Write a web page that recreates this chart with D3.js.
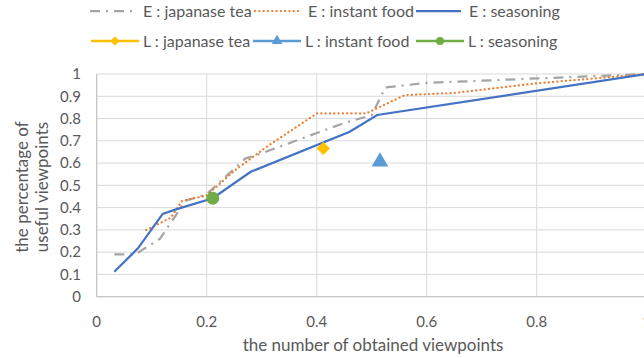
<!DOCTYPE html>
<html>
<head>
<meta charset="utf-8">
<script src="https://cdn.jsdelivr.net/npm/d3@7"></script>
<style>
  body { margin: 0; background: #fff; }
  text { font-family: Lato, "Open Sans", sans-serif; fill: #595959; }
</style>
</head>
<body>
<div id="chart"></div>
<script>
// E curves (x = share of obtained viewpoints, y = share useful)
const teaE = [[0.032,0.19],[0.07,0.19],[0.115,0.26],[0.145,0.37],[0.16,0.43],[0.2,0.46],[0.235,0.54],[0.27,0.62],[0.29,0.635],[0.45,0.78],[0.5,0.815],[0.525,0.94],[0.6,0.96],[0.8,0.98],[1.0,1.0]];
const foodE = [[0.09,0.30],[0.135,0.355],[0.155,0.43],[0.2,0.455],[0.25,0.565],[0.31,0.675],[0.4,0.823],[0.49,0.823],[0.56,0.905],[0.65,0.915],[0.8,0.958],[1.0,1.0]];
const seasoningE = [[0.032,0.112],[0.075,0.217],[0.12,0.372],[0.144,0.392],[0.211,0.442],[0.28,0.561],[0.46,0.741],[0.51,0.816],[1.0,1.0]];

// L points
const teaL = [0.412, 0.666];
const foodL = [0.515, 0.606];
const seasoningL = [0.211, 0.442];

const xTicks = [0, 0.2, 0.4, 0.6, 0.8, 1];
const yTicks = [0, 0.1, 0.2, 0.3, 0.4, 0.5, 0.6, 0.7, 0.8, 0.9, 1];

const W = 644, H = 358;
const svg = d3.select("#chart").append("svg")
    .attr("width", W).attr("height", H);

const x = d3.scaleLinear().domain([0, 1]).range([96.7, 646.7]);
const y = d3.scaleLinear().domain([0, 1]).range([296.7, 74]);

// gridlines
svg.append("g").selectAll("line.h").data(yTicks).join("line")
    .attr("x1", x(0)).attr("x2", x(1))
    .attr("y1", d => y(d)).attr("y2", d => y(d))
    .attr("stroke", "#d9d9d9").attr("stroke-width", 1);
svg.append("g").selectAll("line.v").data(xTicks).join("line")
    .attr("x1", d => x(d)).attr("x2", d => x(d))
    .attr("y1", y(0)).attr("y2", y(1))
    .attr("stroke", "#d9d9d9").attr("stroke-width", 1);

// axis lines
svg.append("line").attr("x1", x(0)).attr("x2", x(1)).attr("y1", y(0)).attr("y2", y(0))
    .attr("stroke", "#bfbfbf");
svg.append("line").attr("x1", x(0)).attr("x2", x(0)).attr("y1", y(0)).attr("y2", y(1))
    .attr("stroke", "#bfbfbf");

// tick labels
svg.append("g").selectAll("text").data(yTicks).join("text")
    .attr("x", 81).attr("y", d => y(d)).attr("dy", "0.35em")
    .attr("text-anchor", "end").attr("font-size", 15)
    .text(d => d3.format("")(d));
svg.append("g").selectAll("text").data(xTicks).join("text")
    .attr("x", d => x(d)).attr("y", 327)
    .attr("text-anchor", "middle").attr("font-size", 15)
    .text(d => d3.format("")(d));

// axis titles
svg.append("text").attr("x", 373).attr("y", 351)
    .attr("text-anchor", "middle").attr("font-size", 17)
    .text("the number of obtained viewpoints");
const yt = svg.append("text").attr("transform", "translate(0,187) rotate(-90)")
    .attr("text-anchor", "middle").attr("font-size", 17);
yt.append("tspan").attr("x", 0).attr("y", 28).text("the percentage of");
yt.append("tspan").attr("x", 0).attr("y", 48).text("useful viewpoints");

// lines
const line = d3.line().x(d => x(d[0])).y(d => y(d[1]));
const series = [
    {data: teaE, color: "#a5a5a5", dash: "10,6,2,6", width: 2.25, cap: "butt"},
    {data: foodE, color: "#ed7d31", dash: "0.1,4.2", width: 2.25, cap: "round"},
    {data: seasoningE, color: "#4472c4", dash: null, width: 2.25, cap: "butt"}
];
series.forEach(s => {
    svg.append("path").datum(s.data)
        .attr("d", line)
        .attr("fill", "none")
        .attr("stroke", s.color)
        .attr("stroke-width", s.width)
        .attr("stroke-linecap", s.cap)
        .attr("stroke-dasharray", s.dash);
});

// L markers
svg.append("path").attr("d", d3.symbol().type(d3.symbolSquare).size(90)())
    .attr("transform", `translate(${x(teaL[0])},${y(teaL[1])}) rotate(45)`)
    .attr("fill", "#ffc000");
svg.append("path").attr("d", d3.symbol().type(d3.symbolTriangle).size(120)())
    .attr("transform", `translate(${x(foodL[0])},${y(foodL[1])})`)
    .attr("fill", "#5b9bd5");
svg.append("circle").attr("cx", x(seasoningL[0])).attr("cy", y(seasoningL[1]))
    .attr("r", 6.5).attr("fill", "#70ad47");

// legend
const legendE = [
    {label: "E : japanase tea", x: 90, color: "#a5a5a5", dash: "10,6,2,6", cap: "butt"},
    {label: "E : instant food", x: 255, color: "#ed7d31", dash: "0.1,4.2", cap: "round"},
    {label: "E : seasoning", x: 416, color: "#4472c4", dash: null, cap: "butt"}
];
const legendL = [
    {label: "L : japanase tea", x: 91, color: "#ffc000", sym: "diamond"},
    {label: "L : instant food", x: 253, color: "#5b9bd5", sym: "triangle"},
    {label: "L : seasoning", x: 416, color: "#70ad47", sym: "circle"}
];
const lg = svg.append("g");
legendE.forEach(d => {
    lg.append("line").attr("x1", d.x).attr("x2", d.x + 45).attr("y1", 11).attr("y2", 11)
        .attr("stroke", d.color).attr("stroke-width", 2.25)
        .attr("stroke-linecap", d.cap).attr("stroke-dasharray", d.dash);
    lg.append("text").attr("x", d.x + 53).attr("y", 11).attr("dy", "0.35em")
        .attr("font-size", 16).text(d.label);
});
legendL.forEach(d => {
    lg.append("line").attr("x1", d.x).attr("x2", d.x + 48).attr("y1", 41).attr("y2", 41)
        .attr("stroke", d.color).attr("stroke-width", 2.5);
    const cx = d.x + 24;
    if (d.sym === "diamond") {
        lg.append("path").attr("d", d3.symbol().type(d3.symbolSquare).size(40)())
            .attr("transform", `translate(${cx},41) rotate(45)`).attr("fill", d.color);
    } else if (d.sym === "triangle") {
        lg.append("path").attr("d", d3.symbol().type(d3.symbolTriangle).size(50)())
            .attr("transform", `translate(${cx},41)`).attr("fill", d.color);
    } else {
        lg.append("circle").attr("cx", cx).attr("cy", 41).attr("r", 4).attr("fill", d.color);
    }
    lg.append("text").attr("x", d.x + 52).attr("y", 41).attr("dy", "0.35em")
        .attr("font-size", 16).text(d.label);
});
</script>
</body>
</html>
